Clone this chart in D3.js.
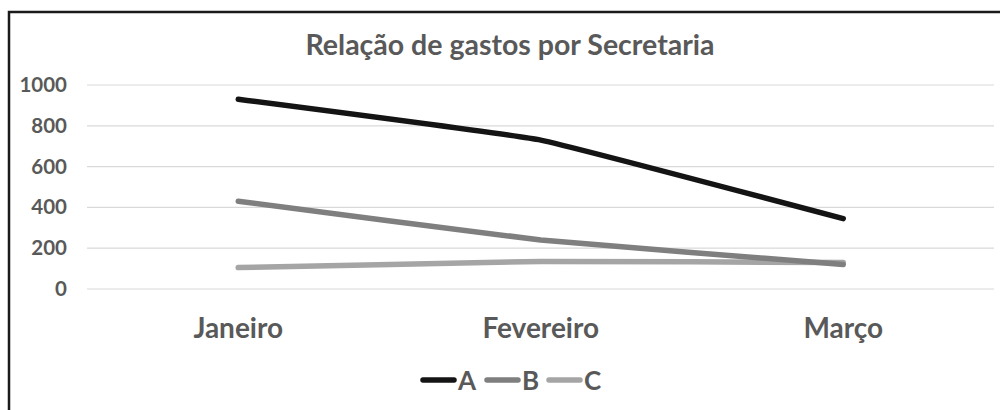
<!DOCTYPE html>
<html><head><meta charset="utf-8">
<script src="https://cdn.jsdelivr.net/npm/d3@7"></script>
<style>
html,body{margin:0;padding:0;background:#fff;}
svg{display:block;}
text{font-family:Lato,"Open Sans",sans-serif;fill:#595959;}
</style></head>
<body>
<svg id="c" width="1000" height="410"></svg>
<script>
const categories = ["Janeiro", "Fevereiro", "Março"];
const seriesA = [930, 730, 345];
const seriesB = [430, 240, 120];
const seriesC = [105, 135, 130];
const seriesNames = ["A", "B", "C"];
const yTicks = [0, 200, 400, 600, 800, 1000];
const title = "Relação de gastos por Secretaria";

const series = [
  {name: seriesNames[0], values: seriesA, color: "#141414"},
  {name: seriesNames[1], values: seriesB, color: "#7f7f7f"},
  {name: seriesNames[2], values: seriesC, color: "#a5a5a5"}
];

const svg = d3.select("#c");

// outer frame
svg.append("rect").attr("x", 9).attr("y", 12).attr("width", 1000).attr("height", 410)
  .attr("fill", "none").attr("stroke", "#1a1a1a").attr("stroke-width", 2.5);

const x = d3.scaleBand().domain(categories).range([87, 994.5]);
const y = d3.scaleLinear().domain([0, 1000]).range([289, 85]);

// gridlines
svg.append("g").selectAll("line").data(yTicks).join("line")
  .attr("x1", 87).attr("x2", 994)
  .attr("y1", d => y(d)).attr("y2", d => y(d))
  .attr("stroke", "#d9d9d9").attr("stroke-width", 1.2);

// y axis
const yAxis = d3.axisLeft(y).tickValues(yTicks).tickFormat(d3.format("d")).tickSize(0).tickPadding(20);
const gy = svg.append("g").attr("transform", "translate(87,0)").call(yAxis);
gy.select(".domain").remove();
gy.selectAll("text").attr("font-size", 20.5).attr("font-weight", 700)
  .style("font-family", "Lato,sans-serif").attr("fill", "#595959");

// x axis
const xAxis = d3.axisBottom(x).tickSize(0).tickPadding(29);
const gx = svg.append("g").attr("transform", "translate(0,289)").call(xAxis);
gx.select(".domain").remove();
gx.selectAll("text").attr("font-size", 28).attr("font-weight", 700)
  .style("font-family", "Lato,sans-serif").attr("fill", "#595959");

// title
svg.append("text").attr("x", 510).attr("y", 55).attr("text-anchor", "middle")
  .attr("font-size", 28.5).attr("font-weight", 700).text(title);

// lines
const line = d3.line()
  .x((d, i) => x(categories[i]) + x.bandwidth() / 2)
  .y(d => y(d))
  .curve(d3.curveCardinal.tension(0.75));

svg.append("g").selectAll("path").data(series.slice().reverse()).join("path")
  .attr("d", d => line(d.values))
  .attr("fill", "none")
  .attr("stroke", d => d.color)
  .attr("stroke-width", 5.5)
  .attr("stroke-linecap", "round")
  .attr("stroke-linejoin", "round");

// legend
const lg = svg.append("g");
const legendX = d3.scaleOrdinal().domain(seriesNames).range([423, 487, 549]);
series.forEach((s, i) => {
  const lx = legendX(s.name);
  lg.append("line").attr("x1", lx).attr("x2", lx + 31).attr("y1", 380).attr("y2", 380)
    .attr("stroke", s.color).attr("stroke-width", 5.5).attr("stroke-linecap", "round");
  lg.append("text").attr("x", lx + 35).attr("y", 390).attr("font-size", 26)
    .attr("font-weight", 700).text(s.name);
});
</script>
</body></html>
